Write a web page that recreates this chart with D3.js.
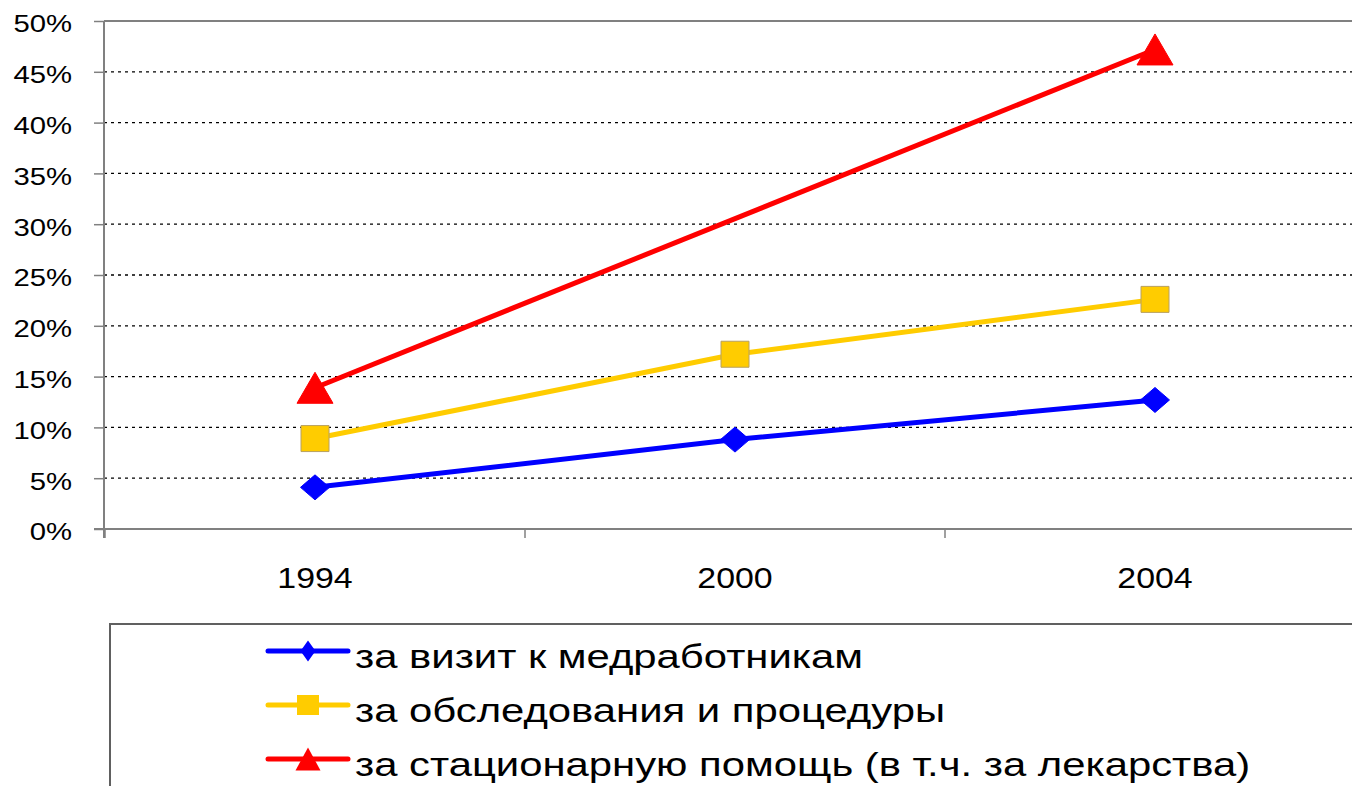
<!DOCTYPE html>
<html>
<head>
<meta charset="utf-8">
<script src="https://cdn.jsdelivr.net/npm/d3@7"></script>
<style>
  body { margin: 0; background: #fff; }
  svg { display: block; font-family: "Liberation Sans", Arial, sans-serif; }
</style>
</head>
<body>
<svg id="chart" width="1352" height="786"></svg>
<script>
// data
var years = ["1994", "2000", "2004"];
var visitValues = [4.1, 8.8, 12.7];
var examValues = [8.9, 17.2, 22.6];
var hospitalValues = [13.9, null, 47.2];   // no marker at 2000, line joins the ends
var seriesNames = [
  "за визит к медработникам",
  "за обследования и процедуры",
  "за стационарную помощь (в т.ч. за лекарства)"
];
var yTicks = [0, 5, 10, 15, 20, 25, 30, 35, 40, 45, 50];

var series = [
  { name: seriesNames[0], values: visitValues, color: "#0000ff", shape: "diamond" },
  { name: seriesNames[1], values: examValues, color: "#ffcc00", shape: "square" },
  { name: seriesNames[2], values: hospitalValues, color: "#ff0000", shape: "triangle" }
];

var svg = d3.select("#chart");
var margin = { top: 21, left: 104, bottom: 529 };
var stretch = 1.13;  // the original text is a bit wide

var x = d3.scaleBand().domain(years).range([105, 1365]);
var y = d3.scaleLinear().domain([0, 50]).range([margin.bottom, margin.top]);

function widen(sel, k) {
  sel.each(function() {
    var len = this.getComputedTextLength();
    d3.select(this).attr("textLength", len * k).attr("lengthAdjust", "spacingAndGlyphs");
  });
}

// gridlines
svg.append("g")
  .selectAll("line")
  .data(yTicks.filter(function(d) { return d > 0 && d < 50; }))
  .enter().append("line")
  .attr("x1", margin.left).attr("x2", 1352)
  .attr("y1", function(d) { return y(d); })
  .attr("y2", function(d) { return y(d); })
  .attr("stroke", "#000")
  .attr("stroke-width", 1.3)
  .attr("stroke-dasharray", "3,4");

// top border of plot area
svg.append("line")
  .attr("x1", margin.left).attr("x2", 1352)
  .attr("y1", y(50)).attr("y2", y(50))
  .attr("stroke", "#808080").attr("stroke-width", 2);

// y axis
var yAxis = svg.append("g")
  .attr("transform", "translate(" + margin.left + ",0)")
  .call(d3.axisLeft(y).tickValues(yTicks).tickSize(10).tickSizeOuter(0)
    .tickFormat(function(d) { return d + "%"; }));
yAxis.select(".domain").attr("stroke", "#808080").attr("stroke-width", 2)
  .attr("d", "M0," + y(50) + "V" + (y(0) + 9));
yAxis.selectAll(".tick line").attr("stroke", "#808080").attr("stroke-width", 1.5);
yAxis.selectAll(".tick text")
  .attr("x", -32).attr("dy", "0.45em")
  .style("font-size", "24px").attr("fill", "#000")
  .call(widen, 1.22);

// x axis
var xAxis = svg.append("g")
  .attr("transform", "translate(0," + y(0) + ")")
  .call(d3.axisBottom(x).tickSize(0).tickSizeOuter(0));
xAxis.select(".domain").attr("stroke", "#808080").attr("stroke-width", 2)
  .attr("d", "M" + (margin.left - 10) + ",0H1352");
xAxis.selectAll(".tick text")
  .attr("y", 59).attr("dy", 0)
  .style("font-size", "30px").attr("fill", "#000")
  .call(widen, stretch);

// tick marks sit between the categories
var bounds = years.map(function(d) { return x(d); }).concat([x.range()[1]]);
xAxis.selectAll(".bound")
  .data(bounds)
  .enter().append("line")
  .attr("class", "bound")
  .attr("x1", function(d) { return d; }).attr("x2", function(d) { return d; })
  .attr("y1", 0).attr("y2", 9)
  .attr("stroke", "#808080").attr("stroke-width", 1.5);

function markerPath(shape, w, h) {
  var a = w / 2, b = h / 2;
  if (shape === "diamond") return "M0," + (-b) + "L" + a + ",0L0," + b + "L" + (-a) + ",0Z";
  if (shape === "square") return "M" + (-a) + "," + (-b) + "h" + w + "v" + h + "h" + (-w) + "Z";
  return "M0," + (-b) + "L" + a + "," + b + "L" + (-a) + "," + b + "Z";
}
var markerSize = { diamond: [29, 25], square: [28, 26], triangle: [36, 31] };
var legendSize = { diamond: [15, 21], square: [22, 20], triangle: [25, 23] };

var cx = function(i) { return x(years[i]) + x.bandwidth() / 2; };

var line = d3.line()
  .x(function(d) { return cx(d.i); })
  .y(function(d) { return y(d.v); });

series.forEach(function(s) {
  var pts = s.values.map(function(v, i) { return { v: v, i: i }; })
    .filter(function(d) { return d.v != null; });

  svg.append("path")
    .datum(pts)
    .attr("fill", "none")
    .attr("stroke", s.color)
    .attr("stroke-width", 5)
    .attr("d", line);

  svg.append("g").selectAll("path")
    .data(pts)
    .enter().append("path")
    .attr("transform", function(d) { return "translate(" + cx(d.i) + "," + y(d.v) + ")"; })
    .attr("d", markerPath(s.shape, markerSize[s.shape][0], markerSize[s.shape][1]))
    .attr("fill", s.color)
    .attr("stroke", s.shape === "square" ? "#b8a060" : s.color)
    .attr("stroke-width", 1);
});

// legend
svg.append("rect")
  .attr("x", 110).attr("y", 624)
  .attr("width", 1300).attr("height", 200)
  .attr("fill", "none").attr("stroke", "#606060").attr("stroke-width", 2);

var legend = svg.append("g").selectAll("g")
  .data(series)
  .enter().append("g")
  .attr("transform", function(d, i) { return "translate(268," + (651 + i * 54) + ")"; });

legend.append("line")
  .attr("x1", 0).attr("x2", 80)
  .attr("stroke", function(d) { return d.color; })
  .attr("stroke-width", 5)
  .attr("stroke-linecap", "round");

legend.append("path")
  .attr("transform", "translate(40,0)")
  .attr("d", function(d) { return markerPath(d.shape, legendSize[d.shape][0], legendSize[d.shape][1]); })
  .attr("fill", function(d) { return d.color; });

legend.append("text")
  .attr("x", 87).attr("y", 17)
  .style("font-size", "34px")
  .text(function(d) { return d.name; })
  .call(widen, 1.23);
</script>
</body>
</html>
